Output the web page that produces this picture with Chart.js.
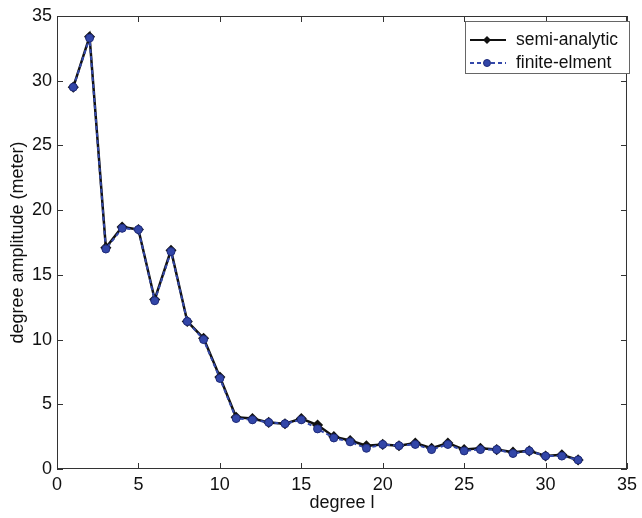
<!DOCTYPE html>
<html>
<head>
<meta charset="utf-8">
<script src="https://cdn.jsdelivr.net/npm/chart.js@4.4.1/dist/chart.umd.min.js"></script>
<style>
  html, body { margin: 0; padding: 0; background: #fff; }
  #wrap { width: 642px; height: 518px; position: relative; }
</style>
</head>
<body>
<div id="wrap"><canvas id="c" width="642" height="518"></canvas></div>
<script>
const degrees = [1,2,3,4,5,6,7,8,9,10,11,12,13,14,15,16,17,18,19,20,21,22,23,24,25,26,27,28,29,30,31,32];
const semiAnalytic = [29.5,33.4,17.1,18.7,18.5,13.1,16.9,11.4,10.1,7.1,4.0,3.9,3.6,3.5,3.9,3.4,2.5,2.2,1.8,1.9,1.8,2.0,1.6,2.0,1.5,1.6,1.5,1.3,1.4,1.0,1.1,0.7];
const finiteElement = [29.5,33.3,17.0,18.6,18.5,13.0,16.8,11.4,10.0,7.0,3.9,3.8,3.6,3.5,3.8,3.1,2.4,2.1,1.6,1.9,1.8,1.9,1.5,1.9,1.4,1.5,1.5,1.2,1.4,1.0,1.0,0.7];
const xTicks = [0,5,10,15,20,25,30,35];
const yTicks = [0,5,10,15,20,25,30,35];
const seriesLabels = ['semi-analytic', 'finite-elment'];

const BLACK = '#111111';
const BLUE_LINE = '#3348aa';
const BLUE_FILL = '#3246a8';
const BLUE_EDGE = '#1f2b7a';
const AXIS = '#333333';
const FONT = 'Liberation Sans, Arial, sans-serif';

const boxPlugin = {
  id: 'boxTicks',
  afterDraw(chart) {
    const {ctx, chartArea: a, scales} = chart;
    ctx.save();
    ctx.strokeStyle = AXIS;
    ctx.lineWidth = 1;
    ctx.strokeRect(a.left + 0.5, a.top + 0.5, a.right - a.left - 1, a.bottom - a.top - 1);
    const L = 6;
    ctx.beginPath();
    xTicks.forEach(v => {
      const x = Math.round(scales.x.getPixelForValue(v)) + 0.5;
      ctx.moveTo(x, a.bottom); ctx.lineTo(x, a.bottom - L);
      ctx.moveTo(x, a.top); ctx.lineTo(x, a.top + L);
    });
    yTicks.forEach(v => {
      const y = Math.round(scales.y.getPixelForValue(v)) + 0.5;
      ctx.moveTo(a.left, y); ctx.lineTo(a.left + L, y);
      ctx.moveTo(a.right, y); ctx.lineTo(a.right - L, y);
    });
    ctx.stroke();

    // legend box
    const lx = 465, ly = 21, lw = 164, lh = 52;
    ctx.fillStyle = '#fff';
    ctx.fillRect(lx, ly, lw, lh);
    ctx.strokeStyle = '#666';
    ctx.strokeRect(lx + 0.5, ly + 0.5, lw, lh);
    const rows = [40, 63];
    ctx.strokeStyle = BLACK; ctx.lineWidth = 2; ctx.setLineDash([]);
    ctx.beginPath(); ctx.moveTo(470, rows[0]); ctx.lineTo(506, rows[0]); ctx.stroke();
    ctx.fillStyle = BLACK;
    ctx.beginPath();
    ctx.moveTo(487, rows[0] - 4); ctx.lineTo(491, rows[0]); ctx.lineTo(487, rows[0] + 4); ctx.lineTo(483, rows[0]);
    ctx.closePath(); ctx.fill();
    ctx.strokeStyle = BLUE_LINE; ctx.lineWidth = 2; ctx.setLineDash([4, 3]);
    ctx.beginPath(); ctx.moveTo(470, rows[1]); ctx.lineTo(506, rows[1]); ctx.stroke();
    ctx.setLineDash([]);
    ctx.fillStyle = BLUE_FILL; ctx.strokeStyle = BLUE_EDGE; ctx.lineWidth = 1;
    ctx.beginPath(); ctx.arc(487, rows[1], 3.5, 0, Math.PI * 2); ctx.fill(); ctx.stroke();
    ctx.fillStyle = '#111';
    ctx.font = '17.5px ' + FONT;
    ctx.textBaseline = 'middle';
    ctx.textAlign = 'left';
    ctx.fillText(chart.data.datasets[0].label, 516, rows[0]);
    ctx.fillText(chart.data.datasets[1].label, 516, rows[1]);
    ctx.restore();
  }
};

new Chart(document.getElementById('c'), {
  type: 'line',
  data: {
    labels: degrees,
    datasets: [
      {
        label: seriesLabels[0],
        data: degrees.map((d, i) => ({x: d, y: semiAnalytic[i]})),
        borderColor: BLACK,
        backgroundColor: BLACK,
        borderWidth: 2.5,
        pointStyle: 'rectRot',
        pointRadius: 3.8,
        pointBorderColor: BLACK,
        pointBackgroundColor: BLACK,
        tension: 0,
        order: 1
      },
      {
        label: seriesLabels[1],
        data: degrees.map((d, i) => ({x: d, y: finiteElement[i]})),
        borderColor: BLUE_LINE,
        backgroundColor: BLUE_FILL,
        borderWidth: 2,
        borderDash: [4, 3],
        pointStyle: 'circle',
        pointRadius: 4,
        pointBorderWidth: 1,
        pointBorderColor: BLUE_EDGE,
        pointBackgroundColor: BLUE_FILL,
        tension: 0,
        order: 0
      }
    ]
  },
  options: {
    responsive: false,
    animation: false,
    devicePixelRatio: 1,
    layout: { padding: { left: 0, right: 9, top: 16, bottom: 0 } },
    plugins: { legend: { display: false }, tooltip: { enabled: false } },
    scales: {
      x: {
        type: 'linear', min: 0, max: 35,
        afterBuildTicks: s => { s.ticks = xTicks.map(v => ({value: v})); },
        afterFit: s => { s.height = 49; },
        grid: { display: false, drawTicks: false },
        border: { display: false },
        ticks: { color: '#111', font: { family: FONT, size: 18 }, padding: 5, maxRotation: 0 },
        title: { display: true, text: 'degree l', color: '#111', font: { family: FONT, size: 18 }, padding: { top: 0, bottom: 4 } }
      },
      y: {
        type: 'linear', min: 0, max: 35,
        afterBuildTicks: s => { s.ticks = yTicks.map(v => ({value: v})); },
        afterFit: s => { s.width = 57; },
        grid: { display: false, drawTicks: false },
        border: { display: false },
        ticks: { color: '#111', font: { family: FONT, size: 18 }, padding: 5 },
        title: { display: true, text: 'degree amplitude (meter)', color: '#111', font: { family: FONT, size: 18 }, padding: { top: 7, bottom: 0 } }
      }
    }
  },
  plugins: [boxPlugin]
});
</script>
</body>
</html>
